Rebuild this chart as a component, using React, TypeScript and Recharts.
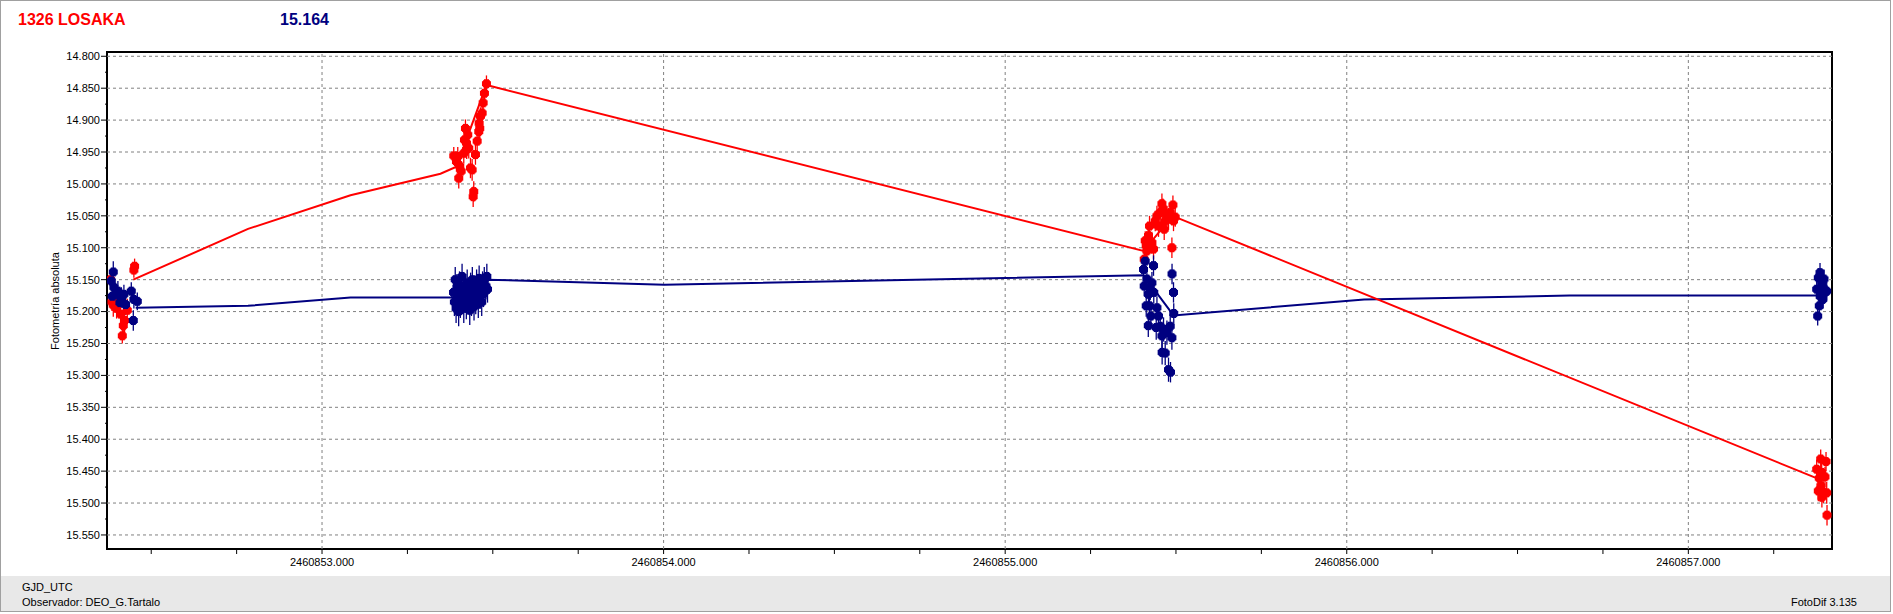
import React from 'react';
import { ScatterChart, Scatter, XAxis, YAxis, ErrorBar, ReferenceLine, ReferenceArea } from 'recharts';

const TITLE = '1326 LOSAKA';
const SUBTITLE = '15.164';
const Y_LABEL = 'Fotometría absoluta';
const X_LABEL = 'GJD_UTC';
const OBSERVER = 'Observador: DEO_G.Tartalo';
const SOFTWARE = 'FotoDif 3.135';

const X_DOMAIN = [2460852.3705, 2460857.4206];
const Y_DOMAIN = [14.7933, 15.572];

const xTicks = [
  2460852.5, 2460852.75, 2460853, 2460853.25, 2460853.5, 2460853.75, 2460854, 2460854.25,
  2460854.5, 2460854.75, 2460855, 2460855.25, 2460855.5, 2460855.75, 2460856, 2460856.25,
  2460856.5, 2460856.75, 2460857, 2460857.25,
];
const xGrid = [2460853, 2460854, 2460855, 2460856, 2460857];
const yTicks = [
  14.8, 14.825, 14.85, 14.875, 14.9, 14.925, 14.95, 14.975, 15.0, 15.025, 15.05, 15.075,
  15.1, 15.125, 15.15, 15.175, 15.2, 15.225, 15.25, 15.275, 15.3, 15.325, 15.35, 15.375,
  15.4, 15.425, 15.45, 15.475, 15.5, 15.525, 15.55,
];
const yGrid = [
  14.8, 14.85, 14.9, 14.95, 15.0, 15.05, 15.1, 15.15, 15.2, 15.25, 15.3, 15.35, 15.4, 15.45, 15.5, 15.55,
];

// Variable star (red): [GJD, magnitude, error]
const varNight1 = [
  [2460852.3810, 15.150, 0.012], [2460852.3889, 15.190, 0.018], [2460852.3986, 15.195, 0.016],
  [2460852.4103, 15.204, 0.018], [2460852.4182, 15.222, 0.016], [2460852.4153, 15.238, 0.012],
  [2460852.4220, 15.214, 0.020], [2460852.4299, 15.198, 0.018], [2460852.4492, 15.135, 0.012],
  [2460852.4513, 15.129, 0.012], [2460852.3850, 15.185, 0.014],
];
const varNight2 = [
  [2460853.3857, 14.956, 0.014], [2460853.3936, 14.965, 0.016], [2460853.3974, 14.957, 0.015],
  [2460853.4003, 14.991, 0.016], [2460853.4033, 14.972, 0.015], [2460853.4074, 14.980, 0.016],
  [2460853.4150, 14.952, 0.016], [2460853.4170, 14.931, 0.016], [2460853.4199, 14.913, 0.014],
  [2460853.4229, 14.936, 0.015], [2460853.4267, 14.923, 0.015], [2460853.4296, 14.944, 0.016],
  [2460853.4235, 14.946, 0.015], [2460853.4346, 14.975, 0.016], [2460853.4395, 14.978, 0.017],
  [2460853.4442, 15.012, 0.016], [2460853.4425, 15.020, 0.016], [2460853.4492, 14.954, 0.016],
  [2460853.4542, 14.933, 0.015], [2460853.4589, 14.918, 0.015], [2460853.4618, 14.913, 0.016],
  [2460853.4600, 14.905, 0.014], [2460853.4638, 14.894, 0.014], [2460853.4688, 14.889, 0.014],
  [2460853.4717, 14.873, 0.013], [2460853.4755, 14.858, 0.013], [2460853.4814, 14.843, 0.013],
];
const varNight3 = [
  [2460855.4100, 15.089, 0.015], [2460855.4129, 15.097, 0.016], [2460855.4070, 15.118, 0.015],
  [2460855.4149, 15.105, 0.016], [2460855.4196, 15.081, 0.016], [2460855.4226, 15.066, 0.016],
  [2460855.4296, 15.092, 0.017], [2460855.4343, 15.102, 0.016], [2460855.4393, 15.058, 0.016],
  [2460855.4443, 15.050, 0.016], [2460855.4489, 15.066, 0.017], [2460855.4539, 15.045, 0.016],
  [2460855.4589, 15.031, 0.016], [2460855.4618, 15.039, 0.016], [2460855.4656, 15.071, 0.017],
  [2460855.4685, 15.058, 0.016], [2460855.4735, 15.050, 0.016], [2460855.4782, 15.055, 0.017],
  [2460855.4832, 15.045, 0.016], [2460855.4881, 15.100, 0.016], [2460855.4911, 15.033, 0.015],
  [2460855.4928, 15.058, 0.016], [2460855.4978, 15.052, 0.015],
];
const varNight4 = [
  [2460857.3875, 15.431, 0.015], [2460857.4031, 15.435, 0.015], [2460857.3758, 15.447, 0.015],
  [2460857.3904, 15.452, 0.016], [2460857.3834, 15.461, 0.016], [2460857.4001, 15.459, 0.016],
  [2460857.3805, 15.481, 0.016], [2460857.3952, 15.483, 0.017], [2460857.4051, 15.484, 0.017],
  [2460857.3910, 15.491, 0.016], [2460857.4060, 15.519, 0.016], [2460857.3880, 15.473, 0.016],
];

// Comparison star (navy): [GJD, magnitude, error]
const cmpNight1 = [
  [2460852.3831, 15.152, 0.015], [2460852.3889, 15.138, 0.017], [2460852.3860, 15.176, 0.015],
  [2460852.3907, 15.162, 0.016], [2460852.3957, 15.173, 0.015], [2460852.4024, 15.168, 0.016],
  [2460852.4083, 15.186, 0.018], [2460852.4124, 15.178, 0.016], [2460852.4200, 15.173, 0.015],
  [2460852.4249, 15.189, 0.016], [2460852.4416, 15.168, 0.014], [2460852.4492, 15.181, 0.014],
  [2460852.4592, 15.184, 0.014], [2460852.4475, 15.214, 0.016],
];
const cmpNight2 = [
  [2460853.3850, 15.170, 0.021], [2460853.3875, 15.185, 0.022], [2460853.3900, 15.150, 0.020],
  [2460853.3925, 15.195, 0.023], [2460853.3950, 15.162, 0.021], [2460853.3975, 15.178, 0.022],
  [2460853.4000, 15.200, 0.023], [2460853.4025, 15.158, 0.021], [2460853.4050, 15.188, 0.022],
  [2460853.4075, 15.172, 0.021], [2460853.4100, 15.145, 0.020], [2460853.4125, 15.182, 0.022],
  [2460853.4150, 15.195, 0.023], [2460853.4175, 15.165, 0.021], [2460853.4200, 15.175, 0.022],
  [2460853.4225, 15.190, 0.022], [2460853.4250, 15.155, 0.021], [2460853.4275, 15.180, 0.022],
  [2460853.4300, 15.168, 0.021], [2460853.4325, 15.198, 0.023], [2460853.4350, 15.160, 0.021],
  [2460853.4375, 15.185, 0.022], [2460853.4400, 15.150, 0.020], [2460853.4425, 15.176, 0.022],
  [2460853.4450, 15.192, 0.022], [2460853.4475, 15.165, 0.021], [2460853.4500, 15.182, 0.022],
  [2460853.4525, 15.155, 0.021], [2460853.4550, 15.170, 0.021], [2460853.4575, 15.188, 0.022],
  [2460853.4600, 15.148, 0.020], [2460853.4625, 15.175, 0.021], [2460853.4650, 15.162, 0.021],
  [2460853.4675, 15.185, 0.022], [2460853.4700, 15.158, 0.021], [2460853.4725, 15.172, 0.021],
  [2460853.4750, 15.150, 0.020], [2460853.4775, 15.168, 0.021], [2460853.4800, 15.160, 0.021],
  [2460853.4825, 15.145, 0.020], [2460853.4845, 15.165, 0.021],
];
const cmpNight3 = [
  [2460855.4050, 15.134, 0.016], [2460855.4100, 15.121, 0.016], [2460855.4070, 15.160, 0.016],
  [2460855.4149, 15.149, 0.016], [2460855.4196, 15.173, 0.017], [2460855.4226, 15.191, 0.017],
  [2460855.4129, 15.191, 0.017], [2460855.4246, 15.165, 0.017], [2460855.4296, 15.155, 0.017],
  [2460855.4343, 15.128, 0.016], [2460855.4350, 15.170, 0.017], [2460855.4267, 15.207, 0.018],
  [2460855.4190, 15.222, 0.018], [2460855.4443, 15.194, 0.018], [2460855.4489, 15.207, 0.018],
  [2460855.4539, 15.223, 0.019], [2460855.4422, 15.225, 0.019], [2460855.4589, 15.238, 0.019],
  [2460855.4636, 15.228, 0.019], [2460855.4735, 15.233, 0.019], [2460855.4832, 15.223, 0.019],
  [2460855.4881, 15.241, 0.019], [2460855.4595, 15.264, 0.019], [2460855.4685, 15.265, 0.019],
  [2460855.4782, 15.291, 0.019], [2460855.4840, 15.295, 0.016], [2460855.4885, 15.141, 0.016],
  [2460855.4928, 15.170, 0.016], [2460855.4935, 15.203, 0.016],
];
const cmpNight4 = [
  [2460857.3855, 15.139, 0.015], [2460857.3805, 15.147, 0.015], [2460857.3904, 15.155, 0.015],
  [2460857.3952, 15.163, 0.015], [2460857.3758, 15.165, 0.015], [2460857.4001, 15.170, 0.015],
  [2460857.3860, 15.176, 0.015], [2460857.3934, 15.181, 0.015], [2460857.3834, 15.191, 0.015],
  [2460857.3787, 15.207, 0.015], [2460857.4051, 15.168, 0.015], [2460857.3972, 15.149, 0.015],
];

// Connecting lines: [GJD, magnitude]
const varLine = [
  [2460852.4475, 15.150], [2460852.7834, 15.0705], [2460853.0834, 15.0177], [2460853.3468, 14.984],
  [2460853.3936, 14.973], [2460853.4814, 14.845], [2460855.4050, 15.105], [2460855.4900, 15.050],
  [2460857.3752, 15.461],
];
const cmpLine = [
  [2460852.4545, 15.194], [2460852.7834, 15.191], [2460853.0834, 15.178], [2460853.3857, 15.178],
  [2460853.4814, 15.150], [2460854.0024, 15.158], [2460855.4050, 15.143], [2460855.4928, 15.206],
  [2460856.0509, 15.181], [2460856.6523, 15.175], [2460857.3758, 15.175],
];

const RED = '#ff0000';
const NAVY = '#000080';
const FONT = '"Liberation Sans", Arial, sans-serif';

const toPts = (rows: number[][]) => rows.map(([t, m, e]) => ({ t, m, e }));
const toLine = (rows: number[][]) => rows.map(([t, m]) => ({ t, m }));

const varPts = toPts([...varNight1, ...varNight2, ...varNight3, ...varNight4]);
const cmpPts = toPts([...cmpNight1, ...cmpNight2, ...cmpNight3, ...cmpNight4]);

const XTick = (props: any) => {
  const { x, y, payload } = props;
  const v = payload.value as number;
  const major = Number.isInteger(v);
  return (
    <g>
      <line x1={x} x2={x} y1={y} y2={y + 5} stroke="#000" strokeWidth={1} />
      {major && (
        <text x={x} y={y + 17} textAnchor="middle" fontSize={11} fontFamily={FONT} fill="#000">
          {v.toFixed(3)}
        </text>
      )}
    </g>
  );
};

const YTick = (props: any) => {
  const { x, y, payload } = props;
  const v = payload.value as number;
  const major = Math.round(v * 1000) % 50 === 0;
  return (
    <g>
      <line x1={x - (major ? 6 : 2)} x2={x} y1={y} y2={y} stroke="#000" strokeWidth={1} />
      {major && (
        <text x={x - 7} y={y} dy="0.35em" textAnchor="end" fontSize={11} fontFamily={FONT} fill="#000">
          {v.toFixed(3)}
        </text>
      )}
    </g>
  );
};

// pixel-style round marker (plus-shaped octagon)
const Dot = (color: string) => (props: any) => {
  const { cx, cy } = props;
  if (cx == null || cy == null) return <g />;
  return (
    <g fill={color}>
      <rect x={cx - 4.5} y={cy - 2.5} width={9} height={5} />
      <rect x={cx - 2.5} y={cy - 4.5} width={5} height={9} />
      <rect x={cx - 3.5} y={cy - 3.5} width={7} height={7} />
    </g>
  );
};
const NoDot = () => <g />;

export default function App() {
  return (
    <div style={{ position: 'absolute', left: 0, top: 0, width: 1893, height: 614, background: '#fff', overflow: 'hidden', fontFamily: FONT }}>
      <div style={{ position: 'absolute', left: 0, top: 0, width: 1891, height: 612, border: '1px solid #a0a0a0', boxSizing: 'border-box' }} />
      <div style={{ position: 'absolute', left: 1, top: 576, width: 1889, height: 35, background: '#e8e8e8' }} />
      <div style={{ position: 'absolute', left: 18, top: 10, fontSize: 16, lineHeight: '19px', fontWeight: 'bold', color: RED }}>{TITLE}</div>
      <div style={{ position: 'absolute', left: 280, top: 10, fontSize: 16, lineHeight: '19px', fontWeight: 'bold', color: NAVY }}>{SUBTITLE}</div>
      <div style={{ position: 'absolute', left: 22, top: 580, fontSize: 11, lineHeight: '14px', color: '#000' }}>{X_LABEL}</div>
      <div style={{ position: 'absolute', left: 22, top: 595, fontSize: 11, lineHeight: '14px', color: '#000' }}>{OBSERVER}</div>
      <div style={{ position: 'absolute', right: 1893 - 1857, top: 595, fontSize: 11, lineHeight: '14px', color: '#000' }}>{SOFTWARE}</div>
      <div style={{ position: 'absolute', left: 55, top: 301, fontSize: 11, lineHeight: '14px', color: '#000', whiteSpace: 'nowrap', transform: 'translate(-50%, -50%) rotate(-90deg)' }}>{Y_LABEL}</div>
      <div style={{ position: 'absolute', left: 0, top: 0 }}>
        <ScatterChart width={1893} height={575} margin={{ top: 52, right: 61, bottom: 2, left: 47 }}>
          <XAxis
            type="number"
            dataKey="t"
            domain={X_DOMAIN}
            allowDataOverflow
            ticks={xTicks}
            interval={0}
            height={24}
            tickSize={0}
            tickMargin={0}
            tickLine={false}
            axisLine={false}
            tick={<XTick />}
          />
          <YAxis
            type="number"
            dataKey="m"
            domain={Y_DOMAIN}
            allowDataOverflow
            reversed
            ticks={yTicks}
            interval={0}
            width={60}
            tickSize={0}
            tickMargin={0}
            tickLine={false}
            axisLine={false}
            tick={<YTick />}
          />
          {xGrid.map((v) => (
            <ReferenceLine key={'gx' + v} x={v} stroke="#808080" strokeDasharray="3 3" strokeWidth={1} />
          ))}
          {yGrid.map((v) => (
            <ReferenceLine key={'gy' + v} y={v} stroke="#808080" strokeDasharray="3 3" strokeWidth={1} />
          ))}
          <ReferenceArea
            x1={X_DOMAIN[0]}
            x2={X_DOMAIN[1]}
            y1={Y_DOMAIN[0]}
            y2={Y_DOMAIN[1]}
            fill="none"
            fillOpacity={0}
            stroke="#000"
            strokeWidth={2}
            ifOverflow="visible"
          />
          <Scatter data={toLine(cmpLine)} line={{ stroke: NAVY, strokeWidth: 2 }} lineType="joint" shape={NoDot} isAnimationActive={false} />
          <Scatter data={toLine(varLine)} line={{ stroke: RED, strokeWidth: 2 }} lineType="joint" shape={NoDot} isAnimationActive={false} />
          <Scatter data={varPts} shape={Dot(RED)} isAnimationActive={false}>
            <ErrorBar dataKey="e" direction="y" width={0} stroke={RED} strokeWidth={1.3} isAnimationActive={false} />
          </Scatter>
          <Scatter data={cmpPts} shape={Dot(NAVY)} isAnimationActive={false}>
            <ErrorBar dataKey="e" direction="y" width={0} stroke={NAVY} strokeWidth={1.3} isAnimationActive={false} />
          </Scatter>
        </ScatterChart>
      </div>
    </div>
  );
}
